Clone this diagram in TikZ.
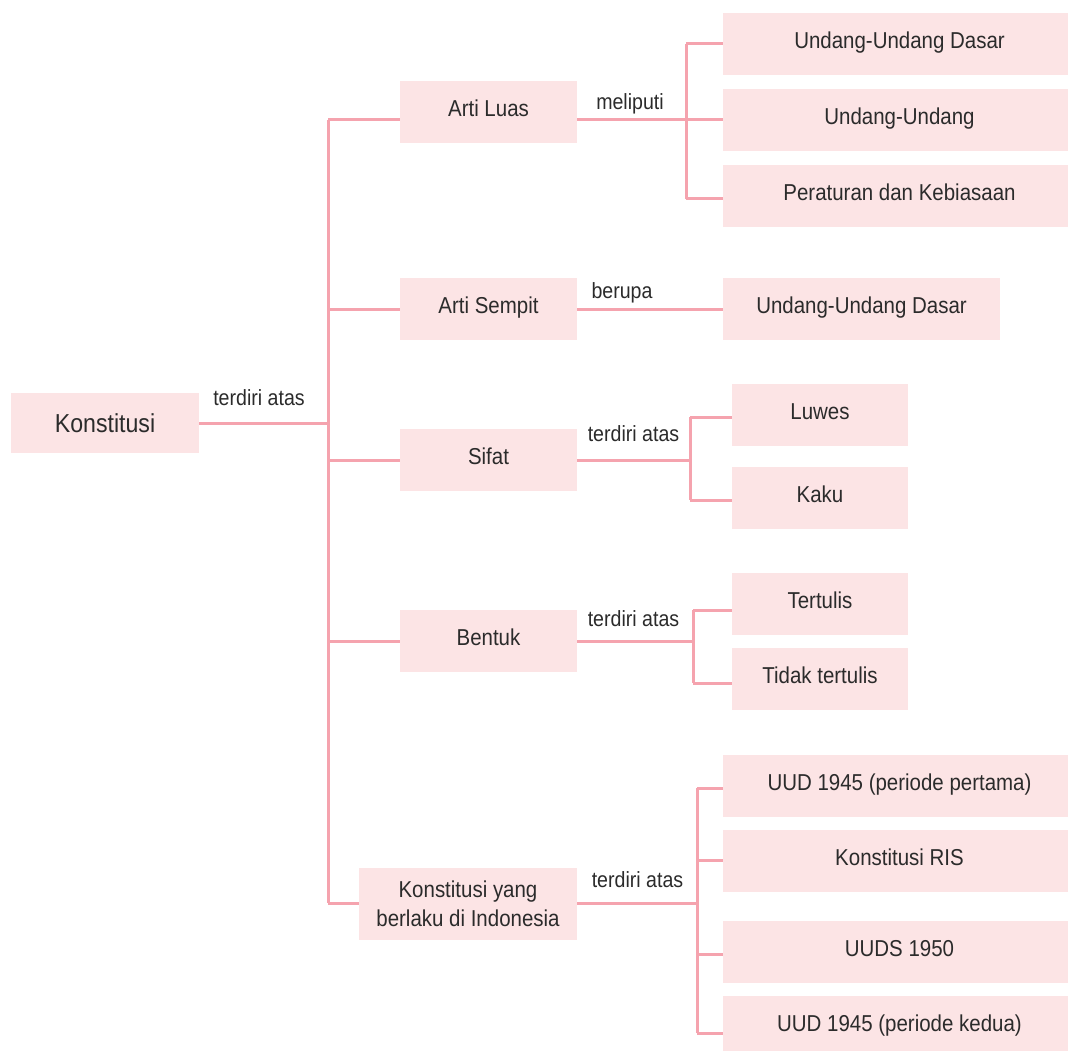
\documentclass[tikz,border=0pt]{standalone}
\usepackage{fontspec}
\setmainfont{Liberation Sans}[FakeStretch=0.89]
\definecolor{linepink}{HTML}{F5A3AE}
\definecolor{boxpink}{HTML}{FCE4E5}
\definecolor{txt}{HTML}{2B2B2B}
\tikzset{
  box/.style args={#1x#2}{fill=boxpink, draw=none, inner sep=0pt, minimum width=#1pt, minimum height=#2pt,
    text=txt, align=center, font=\fontsize{23}{29}\selectfont, text height=16.5pt, text depth=6.9pt},
  conn/.style={draw=linepink, line width=3pt},
  lbl/.style={text=txt, inner sep=0pt, anchor=base, font=\fontsize{22}{26}\selectfont}
}
\begin{document}
\begin{tikzpicture}[x=1pt,y=-1pt]
\useasboundingbox (0,0) rectangle (1068,1051);
% boxes
\node[box=188x60, font=\fontsize{26}{30}\selectfont, text height=, text depth=] (K) at (105,423) {Konstitusi};
\node[box=177x62] (AL) at (488.5,112) {Arti Luas};
\node[box=177x62] (AS) at (488.5,309) {Arti Sempit};
\node[box=177x62] (SF) at (488.5,460) {Sifat};
\node[box=177x62] (BT) at (488.5,641) {Bentuk};
\node[box=218x72, text height=, text depth=] (KI) at (468,904) {Konstitusi yang\\berlaku di Indonesia};
\node[box=353x62] (U1) at (899.5,44) {Undang-Undang Dasar};
\node[box=353x62] (U2) at (899.5,120) {Undang-Undang};
\node[box=353x62] (U3) at (899.5,196) {Peraturan dan Kebiasaan};
\node[box=277x62] (S1) at (861.5,309) {Undang-Undang Dasar};
\node[box=176x62] (LW) at (820,415) {Luwes};
\node[box=176x62] (KK) at (820,498) {Kaku};
\node[box=176x62] (TT) at (820,604) {Tertulis};
\node[box=176x62] (TD) at (820,679) {Tidak tertulis};
\node[box=353x62] (P1) at (899.5,786) {UUD 1945 (periode pertama)};
\node[box=353x62] (P2) at (899.5,861) {Konstitusi RIS};
\node[box=353x62] (P3) at (899.5,952) {UUDS 1950};
\node[box=353x62] (P4) at (899.5,1027) {UUD 1945 (periode kedua)};
% junction coordinates
\coordinate (tTop) at (328,120);
\coordinate (tBot) at (328,903);
\coordinate (tK) at (328,423);
\coordinate (jA) at (686,120);
\coordinate (jAt) at (686,44);
\coordinate (jAb) at (686,199);
\coordinate (jS) at (690,460);
\coordinate (jSt) at (690,417);
\coordinate (jSb) at (690,500);
\coordinate (jB) at (693,641);
\coordinate (jBt) at (693,610);
\coordinate (jBb) at (693,683);
\coordinate (jK) at (697,903);
\coordinate (jKt) at (697,788);
\coordinate (jK2) at (697,860);
\coordinate (jK3) at (697,954);
\coordinate (jKb) at (697,1033);
% trunk
\draw[conn] (tTop) -- (tBot);
\draw[conn] (K.east) -- (tK);
\draw[conn] (tTop) -- (tTop -| AL.west);
\draw[conn] (tTop |- AS.west) -- (AS.west);
\draw[conn] (tTop |- SF.west) -- (SF.west);
\draw[conn] (tTop |- BT.west) -- (BT.west);
\draw[conn] (tBot) -- (tBot -| KI.west);
% Arti Luas
\draw[conn] (jA -| AL.east) -- (jA);
\draw[conn] (jAt) -- (jAb);
\draw[conn] (jAt) -- (jAt -| U1.west);
\draw[conn] (jA) -- (jA -| U2.west);
\draw[conn] (jAb) -- (jAb -| U3.west);
% Arti Sempit
\draw[conn] (AS.east) -- (S1.west);
% Sifat
\draw[conn] (SF.east) -- (jS);
\draw[conn] (jSt) -- (jSb);
\draw[conn] (jSt) -- (jSt -| LW.west);
\draw[conn] (jSb) -- (jSb -| KK.west);
% Bentuk
\draw[conn] (BT.east) -- (jB);
\draw[conn] (jBt) -- (jBb);
\draw[conn] (jBt) -- (jBt -| TT.west);
\draw[conn] (jBb) -- (jBb -| TD.west);
% Konstitusi yang berlaku
\draw[conn] (jK -| KI.east) -- (jK);
\draw[conn] (jKt) -- (jKb);
\draw[conn] (jKt) -- (jKt -| P1.west);
\draw[conn] (jK2) -- (jK2 -| P2.west);
\draw[conn] (jK3) -- (jK3 -| P3.west);
\draw[conn] (jKb) -- (jKb -| P4.west);
% labels
\node[lbl] (l0) at (259,405) {terdiri atas};
\node[lbl] (l1) at (630,110) {meliputi};
\node[lbl] (l2) at (622,298) {berupa};
\node[lbl] (l3) at (633.5,441) {terdiri atas};
\node[lbl] (l4) at (633.5,626) {terdiri atas};
\node[lbl] (l5) at (637.5,887) {terdiri atas};
\end{tikzpicture}
\end{document}
